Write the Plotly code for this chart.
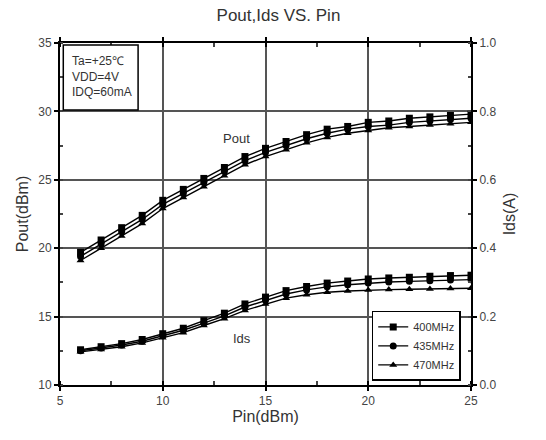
import plotly.graph_objects as go

# Input power sweep (dBm)
pin = [6, 7, 8, 9, 10, 11, 12, 13, 14, 15, 16, 17, 18, 19, 20, 21, 22, 23, 24, 25]

# Output power (dBm) per frequency
pout_400 = [19.7, 20.6, 21.5, 22.4, 23.5, 24.3, 25.1, 25.9, 26.7, 27.3, 27.8, 28.3, 28.7, 28.9, 29.2, 29.3, 29.5, 29.6, 29.7, 29.8]
pout_435 = [19.4, 20.3, 21.2, 22.1, 23.2, 24.0, 24.8, 25.6, 26.4, 27.0, 27.5, 28.0, 28.4, 28.7, 28.9, 29.0, 29.2, 29.3, 29.4, 29.5]
pout_470 = [19.1, 20.0, 20.9, 21.8, 22.9, 23.7, 24.5, 25.3, 26.1, 26.7, 27.2, 27.7, 28.1, 28.4, 28.6, 28.8, 28.9, 29.0, 29.1, 29.2]

# Drain current (A) per frequency
ids_400 = [0.103, 0.112, 0.121, 0.133, 0.150, 0.166, 0.188, 0.210, 0.237, 0.257, 0.276, 0.288, 0.298, 0.304, 0.310, 0.313, 0.315, 0.318, 0.320, 0.321]
ids_435 = [0.100, 0.108, 0.117, 0.128, 0.144, 0.160, 0.181, 0.202, 0.228, 0.248, 0.266, 0.278, 0.287, 0.293, 0.298, 0.301, 0.303, 0.305, 0.307, 0.308]
ids_470 = [0.097, 0.104, 0.112, 0.123, 0.138, 0.153, 0.174, 0.194, 0.218, 0.237, 0.254, 0.264, 0.271, 0.275, 0.278, 0.279, 0.280, 0.281, 0.282, 0.283]

freq_labels = ["400MHz", "435MHz", "470MHz"]
symbols = ["square", "circle", "triangle-up"]

FONT = "Liberation Sans, Arial, sans-serif"
INK = "#333"

fig = go.Figure()

pout_sets = [pout_400, pout_435, pout_470]
ids_sets = [ids_400, ids_435, ids_470]

for name, sym, pout in zip(freq_labels, symbols, pout_sets):
    fig.add_trace(go.Scatter(
        x=pin, y=pout, name=name, mode="lines+markers",
        line=dict(color="black", width=1.4),
        marker=dict(symbol=sym, size=7, color="black"),
        showlegend=True, legendgroup=name,
    ))

for name, sym, ids in zip(freq_labels, symbols, ids_sets):
    fig.add_trace(go.Scatter(
        x=pin, y=ids, name=name, mode="lines+markers", yaxis="y2",
        line=dict(color="black", width=1.4),
        marker=dict(symbol=sym, size=7, color="black"),
        showlegend=False, legendgroup=name,
    ))

axis_common = dict(
    showline=True, linecolor="black", linewidth=2,
    ticks="outside", ticklen=4, tickwidth=1.5, tickcolor="black",
    tickfont=dict(family=FONT, size=12, color="#444"),
    zeroline=False,
)

fig.update_layout(
    width=546, height=440,
    margin=dict(l=60, r=75, t=43, b=55),
    paper_bgcolor="white", plot_bgcolor="white",
    font=dict(family=FONT, color=INK),
    title=dict(text="Pout,Ids VS. Pin", x=0.51, xanchor="center", y=0.965, yanchor="middle",
               font=dict(family=FONT, size=17, color=INK)),
    xaxis=dict(
        range=[5, 25], dtick=5, tick0=5, mirror="allticks",
        showgrid=True, gridcolor="#555", gridwidth=1.5,
        minor=dict(dtick=2.5, ticks="inside", ticklen=3, tickcolor="#444", showgrid=False),
        title=dict(text="Pin(dBm)", font=dict(family=FONT, size=16, color=INK), standoff=1),
        **axis_common,
    ),
    yaxis=dict(
        range=[10, 35], dtick=5, tick0=10, mirror=True,
        showgrid=True, gridcolor="#555", gridwidth=1.5,
        minor=dict(dtick=2.5, ticks="inside", ticklen=3, tickcolor="#444", showgrid=False),
        title=dict(text="Pout(dBm)", font=dict(family=FONT, size=16, color=INK), standoff=6),
        **axis_common,
    ),
    yaxis2=dict(
        range=[0, 1.0], dtick=0.2, tick0=0, overlaying="y", side="right",
        tickformat=".1f", showgrid=False,
        minor=dict(dtick=0.1, ticks="inside", ticklen=3, tickcolor="#444", showgrid=False),
        title=dict(text="Ids(A)", font=dict(family=FONT, size=16, color=INK), standoff=8),
        **axis_common,
    ),
    legend=dict(
        x=0.975, y=0.012, xanchor="right", yanchor="bottom",
        bgcolor="white", bordercolor="black", borderwidth=1.5,
        font=dict(family=FONT, size=11, color=INK),
        itemwidth=30, tracegroupgap=0,
    ),
)

# Test conditions box in the upper-left corner, reaching down to the 30 dBm grid line
fig.add_shape(type="rect", xref="paper", yref="y", x0=0.008, x1=0.19, y0=30.1, y1=34.85,
              line=dict(color="black", width=1.5), fillcolor="white", layer="above")
fig.add_annotation(
    xref="paper", yref="paper", x=0.025, y=0.975, xanchor="left", yanchor="top",
    text="Ta=+25℃<br>VDD=4V<br>IDQ=60mA", align="left", showarrow=False,
    font=dict(family=FONT, size=12, color=INK),
)

# Curve-family labels
fig.add_annotation(x=13.6, y=28.05, text="Pout", showarrow=False,
                   font=dict(family=FONT, size=13, color=INK))
fig.add_annotation(x=13.85, y=13.4, text="Ids", showarrow=False,
                   font=dict(family=FONT, size=13, color=INK))

fig.write_html("out.html")
